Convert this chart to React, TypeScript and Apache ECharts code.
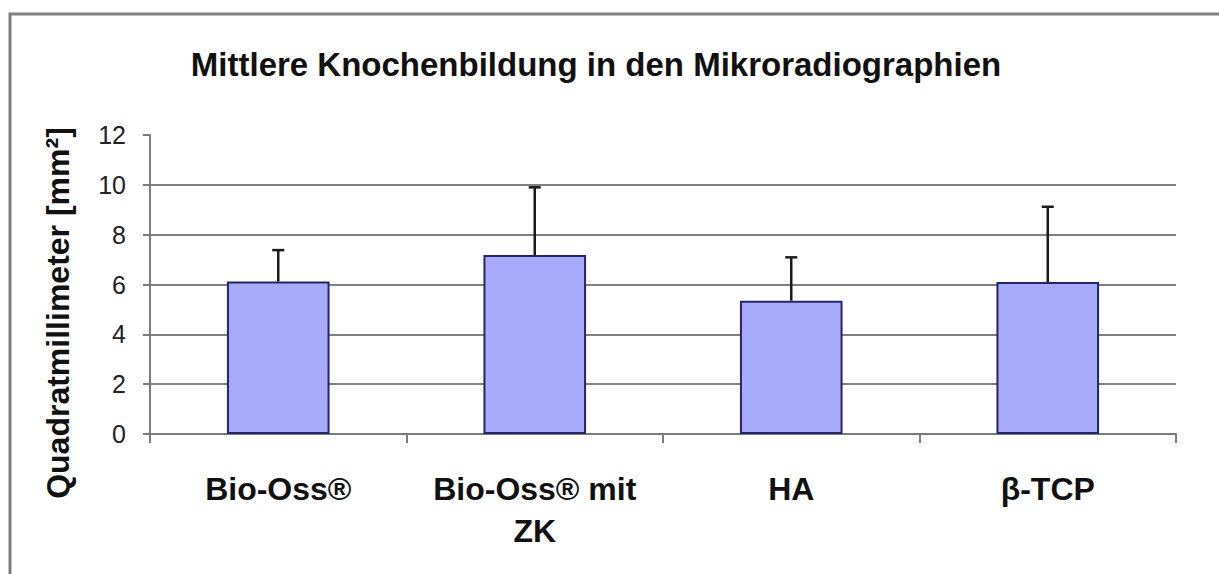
import React, { useEffect, useRef } from "react";
import * as echarts from "echarts";

const categories = ["Bio-Oss®", "Bio-Oss® mit\nZK", "HA", "β-TCP"];
const means = [6.12, 7.18, 5.35, 6.1];
const sds = [1.26, 2.72, 1.74, 3.02];
const yTicks = [0, 2, 4, 6, 8, 10, 12];

const FONT = '"Liberation Sans", Arial, Helvetica, sans-serif';

export default function App() {
  const ref = useRef<HTMLDivElement>(null);
  useEffect(() => {
    if (!ref.current) return;
    const chart = echarts.init(ref.current, null, { renderer: "svg" });
    const errData = means.map((m, i) => [i, m, m + sds[i]]);
    chart.setOption({
      animation: false,
      backgroundColor: "#ffffff",
      grid: { left: 150, right: 43, top: 135, bottom: 140, containLabel: false },
      graphic: [
        {
          type: "rect",
          shape: { x: 10, y: 14, width: 1400, height: 800 },
          style: { fill: "none", stroke: "#7f7f7f", lineWidth: 3 },
          silent: true,
        },
        {
          type: "text",
          x: 596,
          y: 64,
          style: {
            text: "Mittlere Knochenbildung in den Mikroradiographien",
            font: `bold 33px ${FONT}`,
            fill: "#111111",
            align: "center",
            verticalAlign: "middle",
          },
        },
        {
          type: "text",
          x: 58,
          y: 313,
          rotation: Math.PI / 2,
          style: {
            text: "Quadratmillimeter [mm²]",
            font: `bold 32px ${FONT}`,
            fill: "#111111",
            align: "center",
            verticalAlign: "middle",
          },
        },
      ],
      xAxis: {
        type: "category",
        data: categories,
        axisLine: { show: true, lineStyle: { color: "#7a7a7a", width: 2 } },
        axisTick: { show: true, length: 9, lineStyle: { color: "#7a7a7a", width: 2 } },
        axisLabel: {
          interval: 0,
          margin: 34,
          fontFamily: FONT,
          fontSize: 32,
          fontWeight: "bold",
          color: "#111111",
          lineHeight: 42,
        },
      },
      yAxis: {
        type: "value",
        min: 0,
        max: 12,
        interval: 2,
        axisLine: { show: true, lineStyle: { color: "#7a7a7a", width: 2 } },
        axisTick: { show: true, length: 7, lineStyle: { color: "#7a7a7a", width: 2 } },
        axisLabel: {
          margin: 24,
          fontFamily: FONT,
          fontSize: 25,
          color: "#222222",
          formatter: (v: number) => (yTicks.includes(v) ? String(v) : ""),
        },
        splitLine: {
          show: true,
          showMinLine: false,
          showMaxLine: false,
          lineStyle: { color: "#808080", width: 2 },
        },
      },
      series: [
        {
          type: "bar",
          data: means,
          barWidth: "40%",
          itemStyle: { color: "#a8abfa", borderColor: "#23246a", borderWidth: 2 },
          z: 2,
        },
        {
          type: "custom",
          data: errData,
          z: 3,
          renderItem: (params: any, api: any) => {
            const i = api.value(0);
            const base = api.coord([i, api.value(1)]);
            const top = api.coord([i, api.value(2)]);
            const style = { stroke: "#1a1a1a", lineWidth: 2.5 };
            return {
              type: "group",
              children: [
                { type: "line", shape: { x1: base[0], y1: base[1], x2: top[0], y2: top[1] }, style },
                { type: "line", shape: { x1: top[0] - 6, y1: top[1], x2: top[0] + 6, y2: top[1] }, style },
              ],
            };
          },
        },
      ],
    });
    return () => chart.dispose();
  }, []);
  return (
    <div
      ref={ref}
      style={{ position: "fixed", left: 0, top: 0, width: 1219, height: 574, background: "#fff" }}
    />
  );
}
